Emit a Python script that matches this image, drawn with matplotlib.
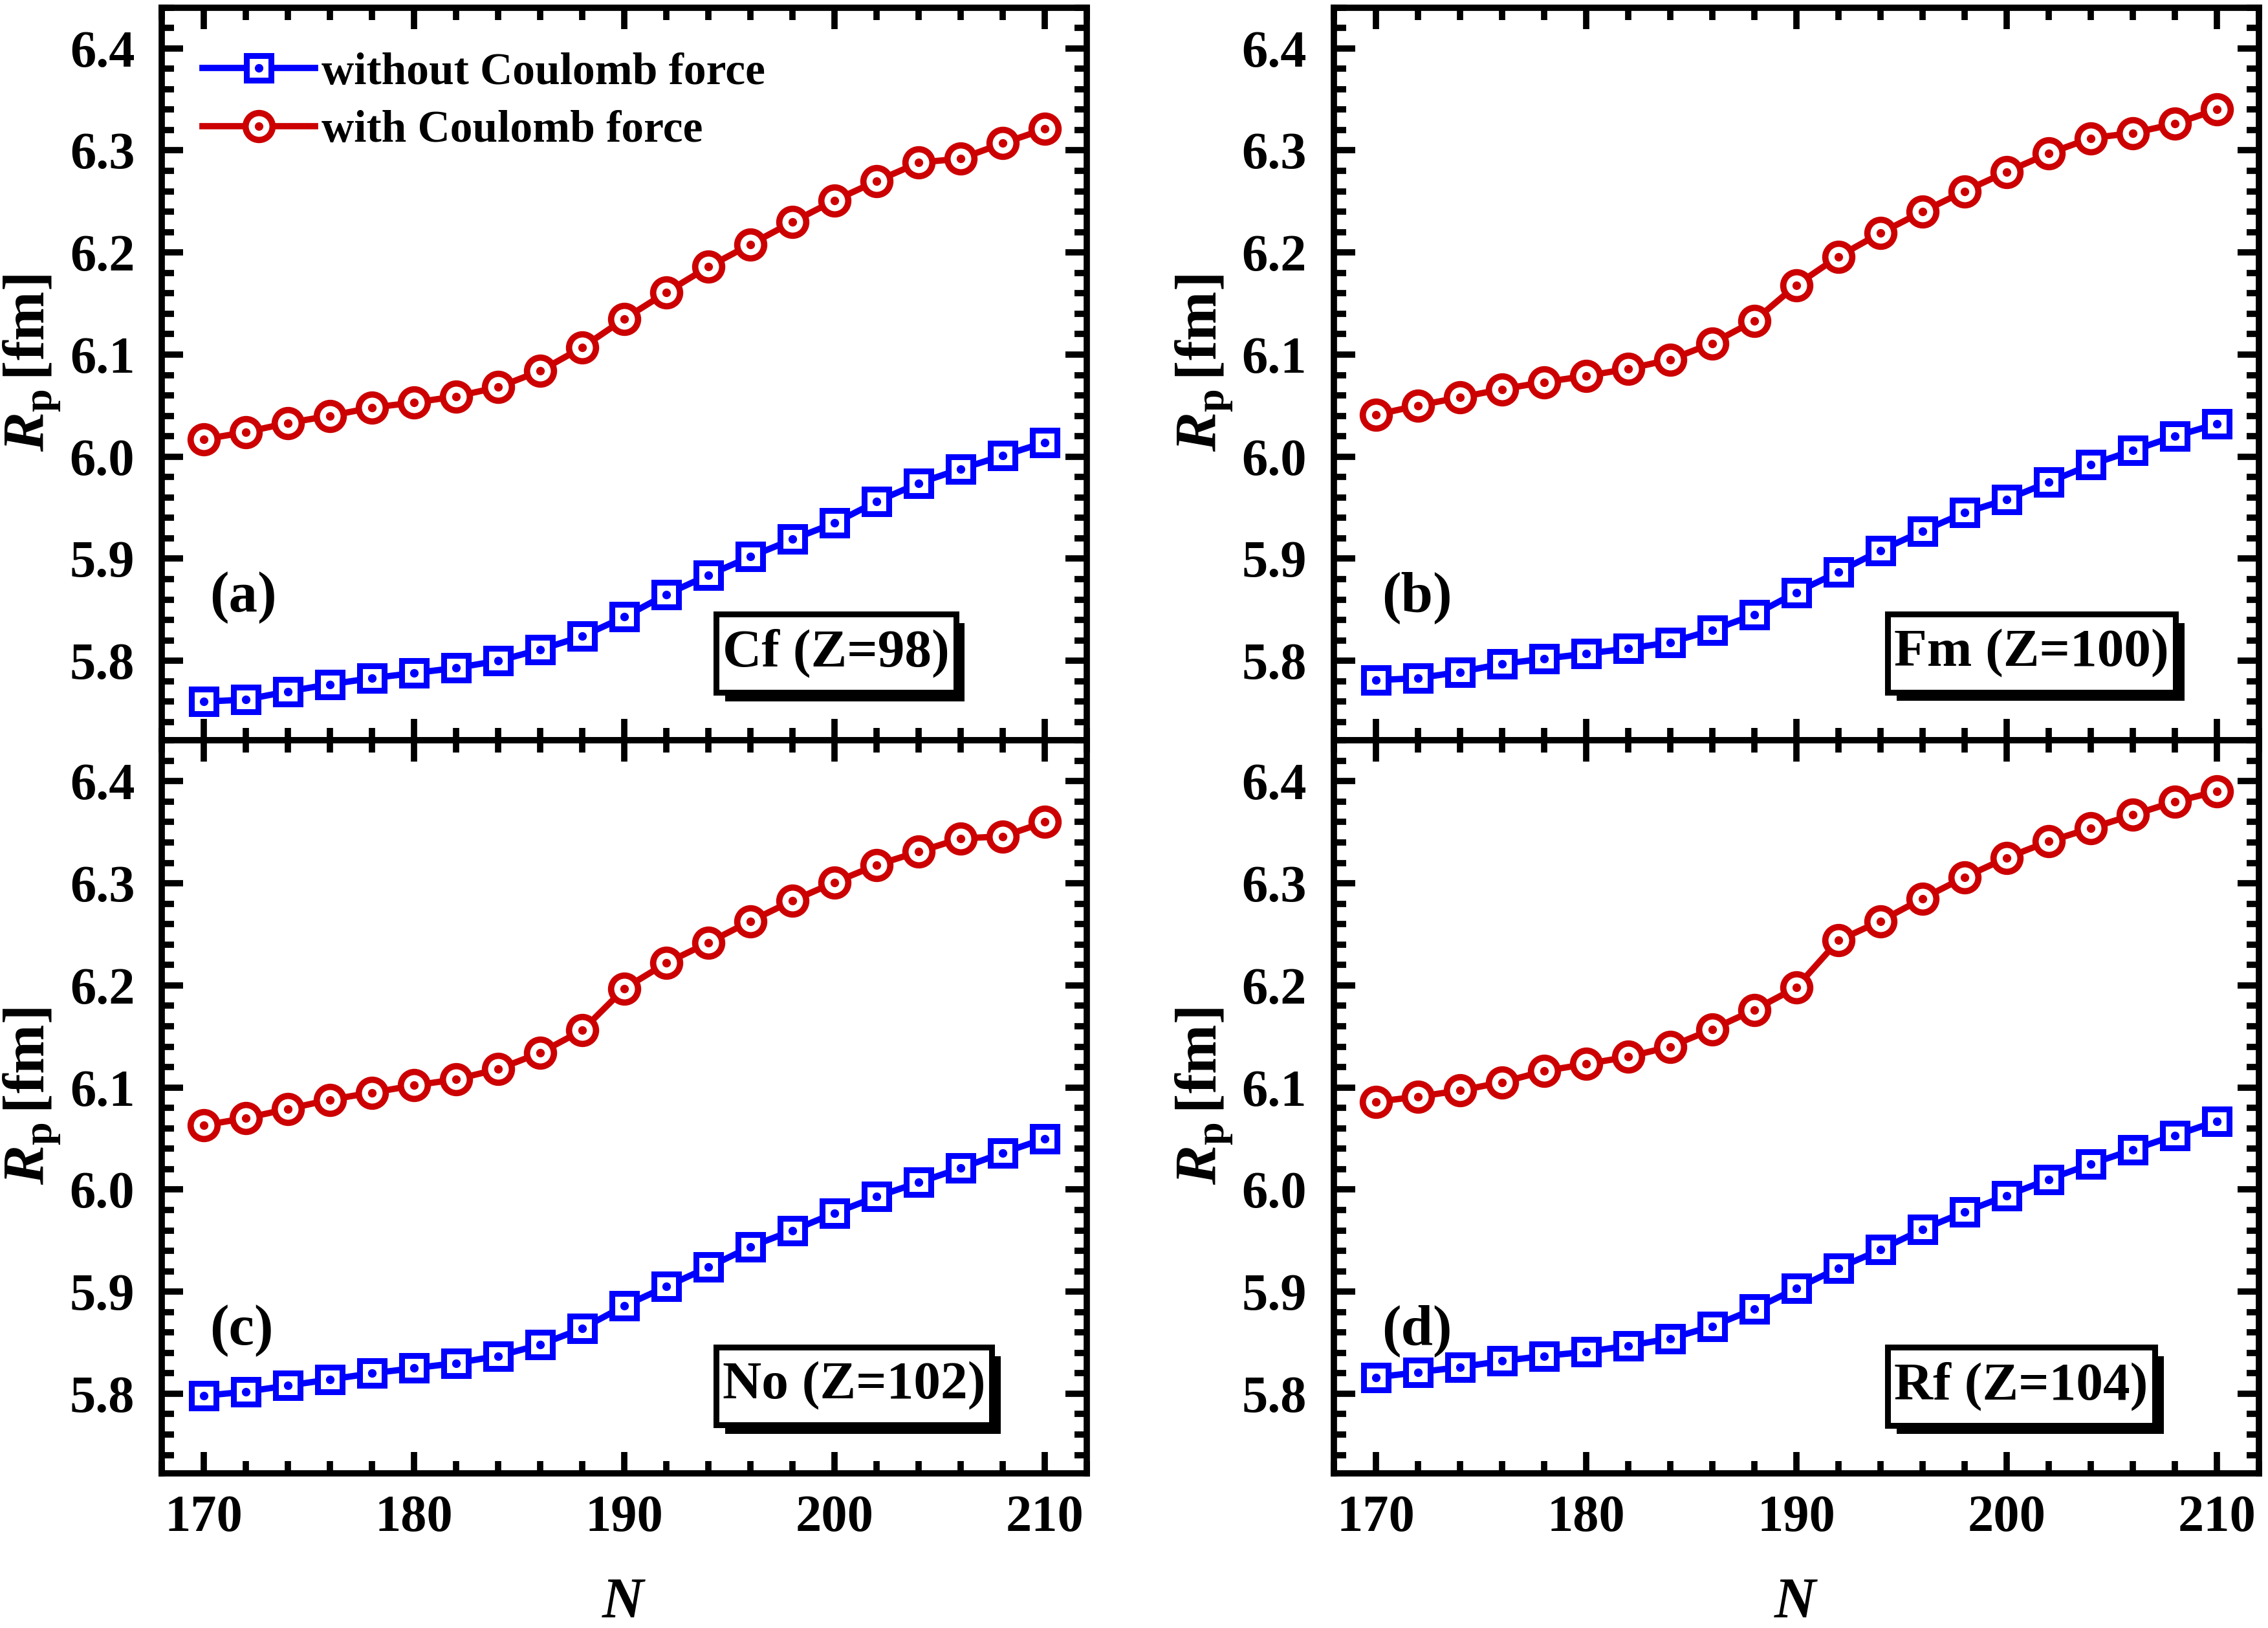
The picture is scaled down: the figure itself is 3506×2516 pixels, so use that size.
import numpy as np
import matplotlib
matplotlib.use('Agg')
import matplotlib.pyplot as plt
import matplotlib.patheffects as pe
from matplotlib.path import Path
from matplotlib.legend_handler import HandlerTuple
from matplotlib.ticker import MultipleLocator, FormatStrFormatter


# neutron numbers (same for every panel)
N = [170, 172, 174, 176, 178, 180, 182, 184, 186, 188, 190,
     192, 194, 196, 198, 200, 202, 204, 206, 208, 210]

# (a) Cf, Z=98
cf_without = [5.760, 5.762, 5.770, 5.777, 5.783, 5.788, 5.793, 5.800, 5.811, 5.824, 5.843,
              5.865, 5.884, 5.902, 5.919, 5.935, 5.956, 5.974, 5.988, 6.001, 6.014]
cf_with = [6.017, 6.024, 6.033, 6.040, 6.048, 6.053, 6.059, 6.068, 6.084, 6.107, 6.135,
           6.161, 6.186, 6.208, 6.230, 6.251, 6.270, 6.288, 6.292, 6.307, 6.321]

# (b) Fm, Z=100
fm_without = [5.781, 5.783, 5.789, 5.797, 5.802, 5.807, 5.812, 5.818, 5.830, 5.845, 5.867,
              5.887, 5.908, 5.927, 5.945, 5.958, 5.975, 5.992, 6.006, 6.020, 6.032]
fm_with = [6.041, 6.050, 6.058, 6.066, 6.073, 6.079, 6.086, 6.095, 6.111, 6.133, 6.168,
           6.196, 6.219, 6.240, 6.260, 6.279, 6.297, 6.312, 6.317, 6.326, 6.340]

# (c) No, Z=102
no_without = [5.798, 5.802, 5.808, 5.814, 5.820, 5.825, 5.830, 5.837, 5.848, 5.864, 5.886,
              5.905, 5.924, 5.944, 5.960, 5.977, 5.993, 6.007, 6.021, 6.036, 6.050]
no_with = [6.063, 6.070, 6.079, 6.088, 6.095, 6.102, 6.108, 6.118, 6.134, 6.156, 6.197,
           6.222, 6.242, 6.263, 6.283, 6.301, 6.318, 6.331, 6.344, 6.346, 6.360]

# (d) Rf, Z=104
rf_without = [5.816, 5.821, 5.826, 5.832, 5.837, 5.841, 5.847, 5.854, 5.866, 5.883, 5.903,
              5.923, 5.941, 5.961, 5.978, 5.994, 6.010, 6.025, 6.039, 6.053, 6.067]
rf_with = [6.086, 6.091, 6.097, 6.105, 6.116, 6.123, 6.130, 6.140, 6.157, 6.176, 6.198,
           6.244, 6.263, 6.285, 6.306, 6.325, 6.341, 6.354, 6.367, 6.380, 6.390]

panel_tags = ['(a)', '(b)', '(c)', '(d)']
nucleus_labels = ['Cf (Z=98)', 'Fm (Z=100)', 'No (Z=102)', 'Rf (Z=104)']
series_labels = ['without Coulomb force', 'with Coulomb force']


plt.rcParams['font.family'] = 'Liberation Serif'
plt.rcParams['font.weight'] = 'bold'
plt.rcParams['mathtext.fontset'] = 'custom'
plt.rcParams['mathtext.rm'] = 'Liberation Serif:bold'
plt.rcParams['mathtext.it'] = 'Liberation Serif:italic:bold'
plt.rcParams['mathtext.bf'] = 'Liberation Serif:bold'

BLUE = '#0000FF'
RED = '#CC0000'
LW = 7


def tall_box(x0, y0, width, height, mutation_size):
    # rectangle with less horizontal than vertical padding
    padx = 0.12 * mutation_size
    pady = 0.27 * mutation_size
    x0, y0 = x0 - padx, y0 - pady
    x1, y1 = x0 + width + 2 * padx, y0 + height + 2 * pady
    return Path([(x0, y0), (x1, y0), (x1, y1), (x0, y1), (x0, y0)], closed=True)


def draw_panel(ax, y_without, y_with, tag, nucleus, show_xlabels, show_legend):
    h1, = ax.plot(N, y_without, color=BLUE, lw=7, marker='s', ms=28,
                  mfc='white', mec=BLUE, mew=6.5, zorder=3)
    d1, = ax.plot(N, y_without, ls='none', marker='o', ms=8.5, color=BLUE, zorder=4)
    h2, = ax.plot(N, y_with, color=RED, lw=7, marker='o', ms=30,
                  mfc='white', mec=RED, mew=7, zorder=3)
    d2, = ax.plot(N, y_with, ls='none', marker='o', ms=8.5, color=RED, zorder=4)

    ax.set_xlim(168, 212)
    ax.set_ylim(5.722, 6.44)
    ax.xaxis.set_major_locator(MultipleLocator(10))
    ax.xaxis.set_minor_locator(MultipleLocator(2))
    ax.yaxis.set_major_locator(MultipleLocator(0.1))
    ax.yaxis.set_minor_locator(MultipleLocator(0.02))
    ax.yaxis.set_major_formatter(FormatStrFormatter('%.1f'))

    ax.tick_params(which='both', direction='in', top=True, right=True, width=LW)
    ax.tick_params(which='major', length=24, labelsize=58)
    ax.tick_params(which='minor', length=14)
    ax.tick_params(axis='y', which='major', pad=30)
    ax.tick_params(axis='x', which='major', pad=24)
    for s in ax.spines.values():
        s.set_linewidth(LW)

    if show_xlabels:
        ax.set_xlabel(r'$\mathit{N}$', fontsize=64, labelpad=38)
    else:
        ax.tick_params(axis='x', labelbottom=False)
    ax.set_ylabel(r'$\mathit{R}_{\mathrm{p}}\,[\mathrm{fm}]$', fontsize=66)
    ax.yaxis.set_label_coords(-0.106, 0.515)

    ax.text(0.052, 0.195, tag, transform=ax.transAxes, fontsize=64,
            ha='left', va='center')
    t = ax.text(0.606, 0.119, nucleus, transform=ax.transAxes, fontsize=60,
                ha='left', va='center', zorder=6,
                bbox=dict(boxstyle=tall_box, fc='white', ec='black', lw=6.5))
    t.get_bbox_patch().set_path_effects([
        pe.withSimplePatchShadow(offset=(10, -10), shadow_rgbFace='black', alpha=1.0),
        pe.Normal()])

    if show_legend:
        ax.legend([(h1, d1), (h2, d2)], series_labels,
                  handler_map={tuple: HandlerTuple(ndivide=1)},
                  loc='upper left', bbox_to_anchor=(0.044, 0.939),
                  frameon=False, fontsize=50, handlelength=2.5,
                  handletextpad=0.15, labelspacing=0.37,
                  borderpad=0.0, borderaxespad=0.0)


fig = plt.figure(figsize=(35.06, 25.16), dpi=100)
w = 0.408
h = 0.4502
left_x = [0.0713, 0.588]
bottom_y = [0.5452, 0.0950]

data = [(cf_without, cf_with), (fm_without, fm_with),
        (no_without, no_with), (rf_without, rf_with)]

for i in range(4):
    row = i // 2
    col = i % 2
    ax = fig.add_axes([left_x[col], bottom_y[row], w, h])
    draw_panel(ax, data[i][0], data[i][1], panel_tags[i], nucleus_labels[i],
               show_xlabels=(row == 1), show_legend=(i == 0))

fig.savefig('out.png', dpi=100)
